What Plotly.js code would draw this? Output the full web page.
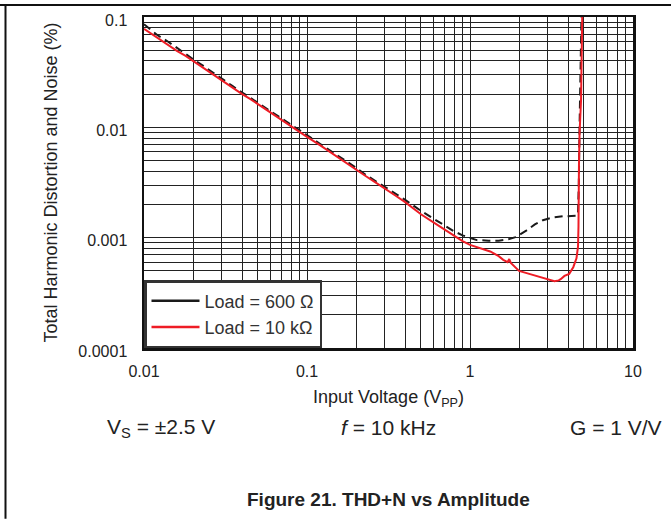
<!DOCTYPE html>
<html>
<head>
<meta charset="utf-8">
<script src="https://cdn.plot.ly/plotly-3.0.1.min.js"></script>
<style>
html,body{margin:0;padding:0;background:#fff;}
#chart{width:671px;height:519px;}
</style>
</head>
<body>
<div id="chart"></div>
<script>
// Load = 600 Ω (black dashed)
const x600 = [0.01,0.011,0.012,0.014,0.016,0.018,0.02,0.023,0.026,0.03,0.035,0.04,0.045,0.05,0.06,0.07,0.08,0.09,0.1,0.12,0.14,0.16,0.18,0.2,0.23,0.26,0.3,0.35,0.4,0.45,0.5,0.6,0.7,0.8,0.9,1.0,1.1,1.3,1.5,1.7,1.9,2.2,2.5,2.8,3.2,3.7,4.2,4.55,4.6,4.65,4.7,4.75,4.8,4.85];
const y600 = [0.086,0.077,0.069,0.060,0.052,0.046,0.0415,0.0362,0.0318,0.0278,0.0236,0.0207,0.0185,0.0166,0.0139,0.0120,0.0105,0.0094,0.0085,0.0071,0.0061,0.0053,0.0048,0.0043,0.0037,0.0033,0.0029,0.0025,0.0022,0.00195,0.00175,0.00148,0.00128,0.00114,0.00105,0.00099,0.00095,0.00094,0.00094,0.00096,0.00101,0.00115,0.00132,0.00144,0.00152,0.00156,0.00157,0.00158,0.0017,0.003,0.01,0.03,0.1,0.15];
// Load = 10 kΩ (red solid)
const x10k = [0.01,0.011,0.012,0.014,0.016,0.018,0.02,0.023,0.026,0.03,0.035,0.04,0.045,0.05,0.06,0.07,0.08,0.09,0.1,0.12,0.14,0.16,0.18,0.2,0.23,0.26,0.3,0.35,0.4,0.45,0.5,0.6,0.7,0.8,0.9,1.0,1.16,1.33,1.5,1.6,1.7,1.74,1.78,2.0,2.2,2.41,2.7,2.97,3.3,3.5,3.6,3.8,4.06,4.3,4.5,4.6,4.63,4.66,4.7,4.8,4.82,4.85,4.9];
const y10k = [0.078,0.071,0.065,0.056,0.049,0.0445,0.040,0.0350,0.0308,0.0270,0.0229,0.0200,0.0180,0.0162,0.0135,0.0117,0.0102,0.0091,0.0082,0.0069,0.0059,0.0052,0.0046,0.0041,0.0036,0.0032,0.0028,0.0024,0.0021,0.00185,0.00163,0.00137,0.00118,0.00103,0.00093,0.00086,0.00080,0.00075,0.00068,0.00063,0.00060,0.00064,0.00059,0.00050,0.00048,0.00046,0.00044,0.00042,0.000403,0.00041,0.00042,0.00045,0.00047,0.00054,0.00065,0.00083,0.00126,0.0044,0.0088,0.0176,0.05,0.1,0.15];

const xTickVals = [0.01,0.02,0.03,0.04,0.05,0.06,0.07,0.08,0.09,0.1,0.2,0.3,0.4,0.5,0.6,0.7,0.8,0.9,1,2,3,4,5,6,7,8,9,10];
const xTickText = ["0.01","","","","","","","","","0.1","","","","","","","","","1","","","","","","","","","10"];
const yTickVals = [0.0001,0.0002,0.0003,0.0004,0.0005,0.0006,0.0007,0.0008,0.0009,0.001,0.002,0.003,0.004,0.005,0.006,0.007,0.008,0.009,0.01,0.02,0.03,0.04,0.05,0.06,0.07,0.08,0.09,0.1];
const yTickText = ["0.0001","","","","","","","","","0.001","","","","","","","","","0.01","","","","","","","","","0.1"];

const legendNames = ["Load = 600 Ω","Load = 10 kΩ"];

const font = "Liberation Sans, Arial, sans-serif";

const traces = [
  {x:x600, y:y600, mode:'lines', line:{color:'#1a1a1a', width:2, dash:'8px,5px'}, showlegend:false, hoverinfo:'skip'},
  {x:x10k, y:y10k, mode:'lines', line:{color:'#ee1c25', width:2}, showlegend:false, hoverinfo:'skip'},
  {x:[null], y:[null], mode:'lines', line:{color:'#1a1a1a', width:2.5}, name:legendNames[0]},
  {x:[null], y:[null], mode:'lines', line:{color:'#ee1c25', width:2.5}, name:legendNames[1]}
];

const L = 144, R = 633, T = 16.5, B = 348, W = 671, H = 519;
const px = v => (v - L) / (R - L);
const py = v => (B - v) / (B - T);

const layout = {
  width: W, height: H,
  margin: {l: L, r: W - R, t: T, b: H - B},
  paper_bgcolor: '#fff', plot_bgcolor: '#fff',
  font: {family: font, color: '#222', size: 18},
  showlegend: true,
  legend: {x: 0, y: 0, xanchor: 'left', yanchor: 'bottom', bgcolor: '#fff', bordercolor: '#333', borderwidth: 2.5, itemwidth: 48, font: {size: 18, family: font, color:'#333'}},
  xaxis: {
    type: 'log', range: [-2, 1], tickmode: 'array', tickvals: xTickVals, ticktext: xTickText,
    showgrid: true, gridcolor: '#222', gridwidth: 1, zeroline: false,
    showline: true, mirror: true, linecolor: '#111', linewidth: 2.5, ticks: '',
    ticklabelstandoff: 7, tickfont: {size: 16, color:'#222'},
    title: {text: 'Input Voltage (V<sub>PP</sub>)', font: {size: 18, color:'#222'}, standoff: 12}
  },
  yaxis: {
    type: 'log', range: [-4, -1], tickmode: 'array', tickvals: yTickVals, ticktext: yTickText,
    showgrid: true, gridcolor: '#222', gridwidth: 1, zeroline: false,
    showline: true, mirror: true, linecolor: '#111', linewidth: 2.5, ticks: '',
    ticklabelstandoff: 11, ticklabelshift: 3, tickfont: {size: 16, color:'#222'},
    title: {text: 'Total Harmonic Distortion and Noise (%)', font: {size: 18, color:'#222'}, standoff: 16}
  },
  annotations: [
    {xref:'paper', yref:'paper', x: px(161), y: py(428), text: 'V<sub>S</sub> = ±2.5 V', showarrow: false, xanchor:'center', yanchor:'middle', font:{size:21, color:'#222'}},
    {xref:'paper', yref:'paper', x: px(388), y: py(428), text: '<i>f</i> = 10 kHz', showarrow: false, xanchor:'center', yanchor:'middle', font:{size:21, color:'#222'}},
    {xref:'paper', yref:'paper', x: px(616), y: py(428), text: 'G = 1 V/V', showarrow: false, xanchor:'center', yanchor:'middle', font:{size:21, color:'#222'}},
    {xref:'paper', yref:'paper', x: px(388), y: py(500), text: '<b>Figure 21. THD+N vs Amplitude</b>', showarrow: false, xanchor:'center', yanchor:'middle', font:{size:19, color:'#222'}}
  ],
  shapes: [
    {type:'line', xref:'paper', yref:'paper', x0: px(0), x1: px(671), y0: py(4.5), y1: py(4.5), line:{color:'#111', width:2}},
    {type:'line', xref:'paper', yref:'paper', x0: px(5.5), x1: px(5.5), y0: py(4.5), y1: py(519), line:{color:'#111', width:2}}
  ]
};

Plotly.newPlot('chart', traces, layout, {staticPlot: true, displayModeBar: false});
</script>
</body>
</html>
